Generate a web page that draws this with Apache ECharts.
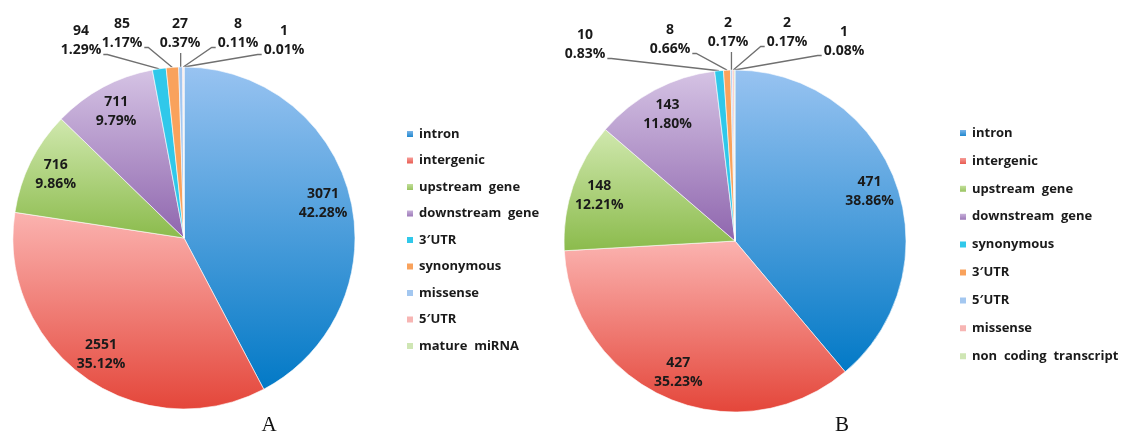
<!DOCTYPE html>
<html>
<head>
<meta charset="utf-8">
<script src="https://cdn.jsdelivr.net/npm/echarts@6/dist/echarts.min.js"></script>
<style>
  html, body { margin: 0; padding: 0; background: #fff; }
  #wrap { width: 1126px; height: 435px; display: flex; }
  .chart { width: 563px; height: 435px; }
</style>
</head>
<body>
<div id="wrap">
  <div id="chartA" class="chart"></div>
  <div id="chartB" class="chart"></div>
</div>
<script>
// chart A data
const namesA = ['intron', 'intergenic', 'upstream gene', 'downstream gene', '3\u2032UTR',
  'synonymous', 'missense', '5\u2032UTR', 'mature miRNA'];
const valuesA = [3071, 2551, 716, 711, 94, 85, 27, 8, 1];

// chart B data
const namesB = ['intron', 'intergenic', 'upstream gene', 'downstream gene', 'synonymous',
  '3\u2032UTR', '5\u2032UTR', 'missense', 'non coding transcript'];
const valuesB = [471, 427, 148, 143, 10, 8, 2, 2, 1];

// slice colours, by position in the pie
const palette = [
  ['#98c3f1', '#0279c6'],
  ['#fbb3b0', '#e4463a'],
  ['#d0e8ae', '#8bbb4c'],
  ['#d5c3e4', '#8f66ae'],
  '#30c8ea',
  '#f9a25c',
  '#a3c7f0',
  '#f7b5b3',
  '#cfe6b4'
];

// where the small-slice labels sit (label block centres)
const smallPosA = { 4: [81, 41], 5: [122, 34], 6: [180, 34], 7: [238, 34], 8: [284, 41] };
const smallPosB = { 4: [22, 45], 5: [107, 40], 6: [165, 33], 7: [224, 33], 8: [281, 42] };

const FONT = '"Open Sans", "Liberation Sans", sans-serif';

function fill(i) {
  const c = palette[i];
  if (typeof c === 'string') return c;
  return new echarts.graphic.LinearGradient(0, 0, 0, 1, [
    { offset: 0, color: c[0] }, { offset: 1, color: c[1] }
  ]);
}

function makeOption(names, values, center, radius, smallPos, legendLeft, legendTop, legendGap, letter, letterX) {
  const total = values.reduce((a, b) => a + b, 0);
  const fmt = p => p.value + '\n' + (p.value / total * 100).toFixed(2) + '%';
  const labelText = { fontFamily: FONT, fontSize: 14, fontWeight: 'bold', color: '#1a1a1a', lineHeight: 19 };

  const mainData = names.map((n, i) => ({
    name: n,
    value: values[i],
    itemStyle: { color: fill(i) },
    label: { show: i >= 4 },
    labelLine: { show: i >= 4 }
  }));
  const overlayData = names.map((n, i) => ({
    name: n,
    value: values[i],
    label: { show: i < 4 }
  }));

  return {
    animation: false,
    legend: {
      orient: 'vertical',
      left: legendLeft,
      top: legendTop,
      itemWidth: 8,
      itemHeight: 8,
      itemGap: legendGap,
      icon: 'rect',
      data: names,
      formatter: n => n.replace(/ /g, '  '),
      textStyle: { fontFamily: FONT, fontSize: 13, fontWeight: 'bold', color: '#1a1a1a', lineHeight: 14 }
    },
    graphic: [{
      type: 'text',
      x: letterX,
      y: 425,
      style: {
        text: letter,
        fontFamily: '"Liberation Serif", "DejaVu Serif", serif',
        fontSize: 21,
        fill: '#111',
        align: 'center',
        verticalAlign: 'middle',
        textAlign: 'center',
        textVerticalAlign: 'middle'
      }
    }],
    series: [
      {
        type: 'pie',
        center: center,
        radius: radius,
        startAngle: 90,
        clockwise: true,
        avoidLabelOverlap: false,
        itemStyle: { borderColor: '#fff', borderWidth: 0.6 },
        label: Object.assign({ position: 'outside', formatter: fmt, align: 'center' }, labelText),
        labelLine: { lineStyle: { color: '#707070', width: 1.3 } },
        labelLayout: function (p) {
          const pos = smallPos[p.dataIndex];
          if (!pos) return;
          const a = p.labelLinePoints[0];
          const w = p.labelRect.width, h = p.labelRect.height;
          let end, mid;
          if (pos[0] < a[0] - 12) {
            end = [pos[0] + w / 2 + 2, pos[1] + h / 4 + 4];
            mid = [end[0] + 4, end[1]];
          } else if (pos[0] > a[0] + 12) {
            end = [pos[0] - w / 2 - 2, pos[1] + h / 4 + 4];
            mid = [end[0] - 4, end[1]];
          } else {
            end = [a[0], pos[1] + h / 2];
            mid = [a[0], end[1] + 2];
          }
          return {
            x: pos[0], y: pos[1], align: 'center', verticalAlign: 'middle',
            labelLinePoints: [a, mid, end]
          };
        },
        emphasis: { disabled: true },
        data: mainData
      },
      {
        // invisible larger pie only used to push the inner labels outward
        type: 'pie',
        center: center,
        radius: radius * 1.64,
        startAngle: 90,
        clockwise: true,
        silent: true,
        legendHoverLink: false,
        avoidLabelOverlap: false,
        itemStyle: { color: 'rgba(0,0,0,0)', borderWidth: 0 },
        label: Object.assign({ position: 'inside', formatter: fmt }, labelText),
        labelLine: { show: false },
        emphasis: { disabled: true },
        data: overlayData,
        z: 5
      }
    ]
  };
}

const chartA = echarts.init(document.getElementById('chartA'), null, { renderer: 'canvas' });
chartA.setOption(makeOption(namesA, valuesA, [184, 238], 171, smallPosA, 400, 122, 12.5, 'A', 269));

const chartB = echarts.init(document.getElementById('chartB'), null, { renderer: 'canvas' });
chartB.setOption(makeOption(namesB, valuesB, [172, 241], 171, smallPosB, 390, 121, 13.9, 'B', 279));
</script>
</body>
</html>
